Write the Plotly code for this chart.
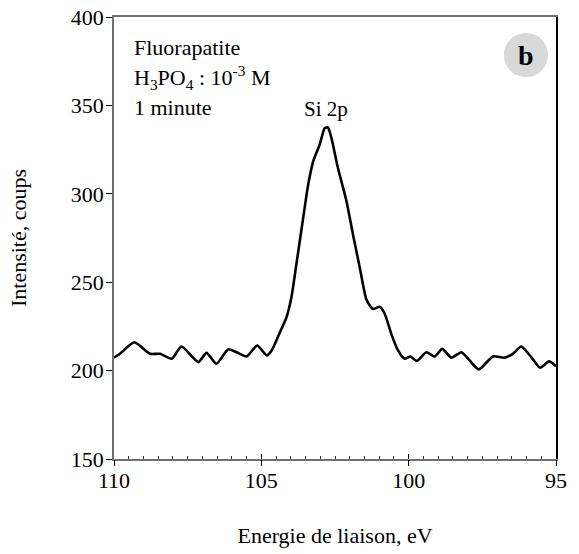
import plotly.graph_objects as go

# Si 2p XPS spectrum: binding energy (eV) and intensity (counts)
energy_ev = [110.0, 109.8, 109.31, 108.78, 108.44, 108.04, 107.71, 107.14, 106.86, 106.52,
             106.13, 105.84, 105.5, 105.14, 104.82, 104.65, 104.37, 104.15, 103.98, 103.81,
             103.58, 103.41, 103.24, 103.02, 102.85, 102.74, 102.62, 102.40, 102.11, 101.89,
             101.66, 101.43, 101.21, 100.98, 100.81, 100.59, 100.36, 100.14, 99.94, 99.72,
             99.40, 99.12, 98.86, 98.55, 98.21, 97.93, 97.62, 97.14, 96.75, 96.46,
             96.18, 95.84, 95.54, 95.24, 95.0]
intensity = [207.3, 209.5, 216.0, 209.5, 209.5, 206.7, 213.6, 204.8, 210.0, 203.9,
             212.0, 210.4, 208.0, 214.2, 208.6, 211.4, 221.7, 230.0, 241.4, 260.2,
             286.4, 305.2, 318.4, 327.8, 337.1, 337.5, 331.5, 314.6, 295.8, 277.0,
             258.3, 240.0, 234.9, 236.1, 232.0, 220.8, 211.4, 206.7, 208.0, 205.4,
             210.4, 208.0, 212.3, 207.3, 210.4, 205.7, 200.7, 208.0, 207.3, 209.5,
             213.6, 207.6, 201.6, 205.2, 202.5]

x_ticks = [110, 105, 100, 95]
y_ticks = [150, 200, 250, 300, 350, 400]
peak_label = "Si 2p"
peak_pos = (102.8, 348)

FONT = "Liberation Serif, Times New Roman, serif"
AXIS_GRAY = "#707070"
FS = 22

fig = go.Figure()
fig.add_trace(go.Scatter(
    x=energy_ev, y=intensity, mode="lines",
    line=dict(color="black", width=2.6, shape="spline", smoothing=0.6),
    showlegend=False, hoverinfo="skip",
))

fig.update_layout(
    width=579, height=554,
    margin=dict(l=114, r=23, t=17, b=95, autoexpand=False),
    paper_bgcolor="white", plot_bgcolor="white",
    font=dict(family=FONT, size=FS, color="black"),
    xaxis=dict(
        range=[110, 95], tickvals=x_ticks, ticktext=[str(v) for v in x_ticks],
        ticks="inside", ticklen=5, tickwidth=1.2, tickcolor="black",
        minor=dict(dtick=0.5, ticks="inside", ticklen=3, tickwidth=1, tickcolor="#333"),
        showline=True, linecolor=AXIS_GRAY, linewidth=1.5, mirror=True,
        showgrid=False, zeroline=False, automargin=False,
        ticklabelstandoff=1,
        title=dict(text="Energie de liaison, eV", standoff=35, font=dict(size=FS)),
        tickfont=dict(size=FS),
    ),
    xaxis2=dict(
        range=[110, 95], overlaying="x", anchor="y", side="bottom",
        tickvals=x_ticks, ticks="outside", ticklen=6, tickwidth=1.2, tickcolor="black",
        showticklabels=False, showline=False, showgrid=False, zeroline=False,
        automargin=False,
    ),
    yaxis=dict(
        range=[150, 400], tickvals=y_ticks,
        ticks="outside", ticklen=6, tickwidth=1.2, tickcolor="black",
        showline=True, linecolor=AXIS_GRAY, linewidth=1.5,
        showgrid=False, zeroline=False, automargin=False,
        ticklabelstandoff=-2,
        title=dict(text="Intensité, coups", standoff=38, font=dict(size=FS)),
        tickfont=dict(size=FS),
    ),
    yaxis2=dict(
        range=[150, 400], overlaying="y", anchor="x", side="right",
        showline=True, linecolor="black", linewidth=1.5,
        showticklabels=False, ticks="", showgrid=False, zeroline=False,
        automargin=False,
    ),
)

# the overlay axes need a trace to be drawn
fig.add_trace(go.Scatter(x=[None], y=[None], xaxis="x2", yaxis="y2",
                         showlegend=False, hoverinfo="skip"))

# sample description
for text, yp in [("Fluorapatite", 0.930),
                 ("H<sub>3</sub>PO<sub>4</sub> : 10<sup>-3</sup> M", 0.862),
                 ("1 minute", 0.796)]:
    fig.add_annotation(text=text, xref="paper", yref="paper", x=0.041, y=yp,
                       xanchor="left", yanchor="middle", showarrow=False,
                       font=dict(family=FONT, size=FS, color="black"))

# peak label
fig.add_annotation(text=peak_label, x=peak_pos[0], y=peak_pos[1], xref="x", yref="y",
                   xanchor="center", yanchor="middle", showarrow=False,
                   font=dict(family=FONT, size=21, color="black"))

# panel badge
fig.add_shape(type="circle", xref="paper", yref="paper",
              x0=0.932 - 0.05, x1=0.932 + 0.05, y0=0.914 - 0.05, y1=0.914 + 0.05,
              fillcolor="#d9d9d9", line=dict(width=0), layer="below")
fig.add_annotation(text="<b>b</b>", xref="paper", yref="paper", x=0.932, y=0.914,
                   xanchor="center", yanchor="middle", showarrow=False,
                   font=dict(family=FONT, size=28, color="black"))

fig.write_html("out.html")
